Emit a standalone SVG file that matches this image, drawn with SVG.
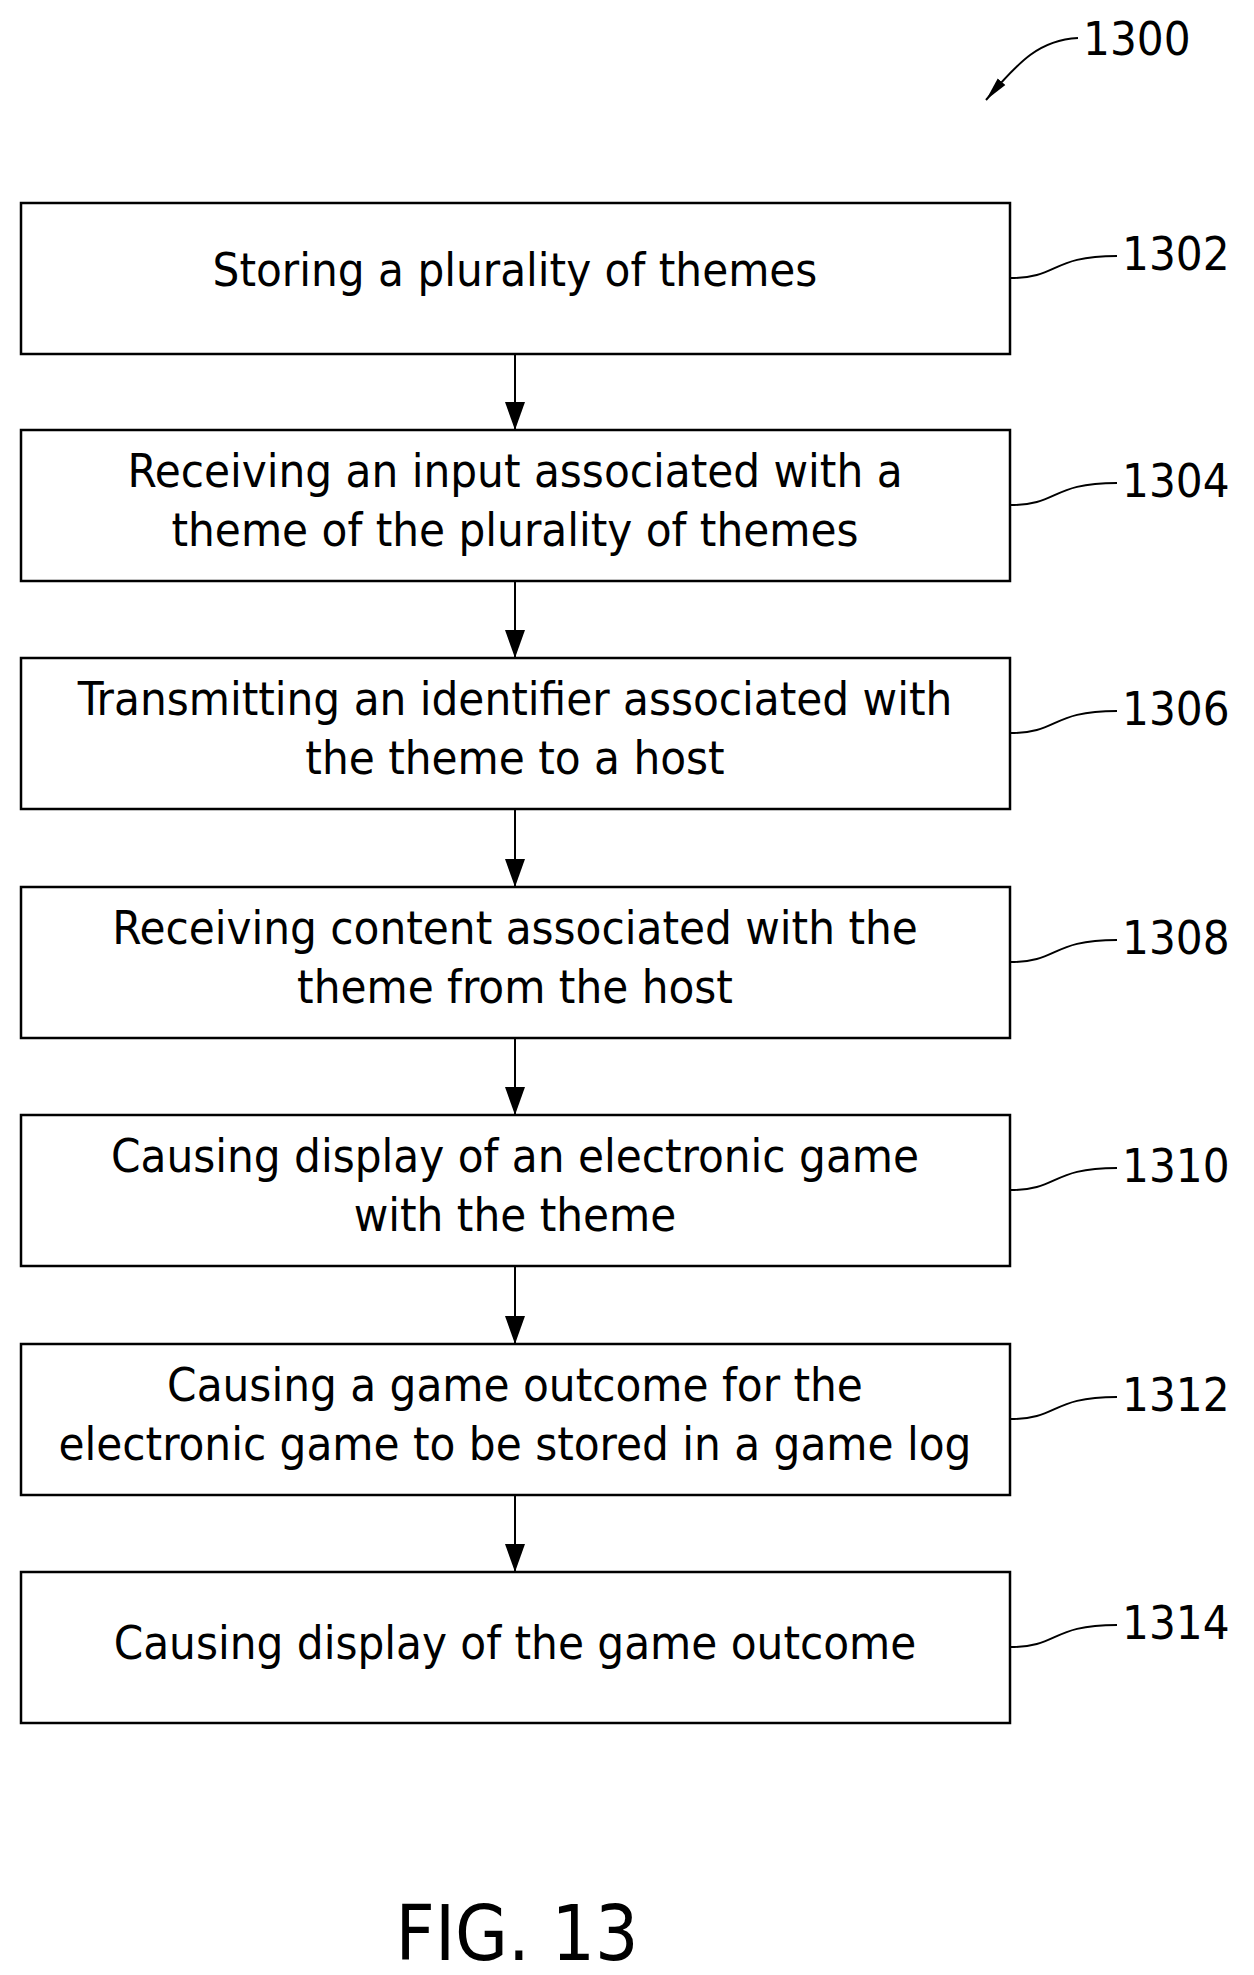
<svg xmlns="http://www.w3.org/2000/svg" width="1254" height="1975" viewBox="0 0 1254 1975">
<style>
.b{fill:#fff;stroke:#000;stroke-width:2.5}
text{font-family:"DejaVu Sans Condensed","DejaVu Sans",sans-serif;font-size:47px;fill:#000}
.t{text-anchor:middle}
.l{fill:none;stroke:#000;stroke-width:2}
</style>
<defs><marker id="a" viewBox="0 0 20 28" markerWidth="20" markerHeight="28" refX="10" refY="28" orient="0" markerUnits="userSpaceOnUse"><path d="M0,0 L20,0 L10,28 Z"/></marker>
<marker id="a2" viewBox="0 0 24 12" markerWidth="24" markerHeight="12" refX="24" refY="6" orient="auto" markerUnits="userSpaceOnUse"><path d="M0,1 L24,6 L0,11 Z"/></marker></defs>
<rect width="1254" height="1975" fill="#fff"/>
<g id="ref1300"><text x="1083" y="55">1300</text><path class="l" d="M1078,38 C1040,40 1020,60 986,100" marker-end="url(#a2)"/></g>
<g id="n1302"><rect class="b" x="21" y="203" width="989" height="151"/><text class="t" x="515" y="286">Storing a plurality of themes</text><text x="1122" y="270">1302</text><path class="l" d="M1010,278 C1060,278 1050,256 1117,256"/></g>
<g id="n1304"><rect class="b" x="21" y="430" width="989" height="151"/><text class="t" x="515" y="487">Receiving an input associated with a</text><text class="t" x="515" y="546">theme of the plurality of themes</text><text x="1122" y="497">1304</text><path class="l" d="M1010,505 C1060,505 1050,483 1117,483"/></g>
<g id="n1306"><rect class="b" x="21" y="658" width="989" height="151"/><text class="t" x="515" y="715">Transmitting an identifier associated with</text><text class="t" x="515" y="774">the theme to a host</text><text x="1122" y="725">1306</text><path class="l" d="M1010,733 C1060,733 1050,711 1117,711"/></g>
<g id="n1308"><rect class="b" x="21" y="887" width="989" height="151"/><text class="t" x="515" y="944">Receiving content associated with the</text><text class="t" x="515" y="1003">theme from the host</text><text x="1122" y="954">1308</text><path class="l" d="M1010,962 C1060,962 1050,940 1117,940"/></g>
<g id="n1310"><rect class="b" x="21" y="1115" width="989" height="151"/><text class="t" x="515" y="1172">Causing display of an electronic game</text><text class="t" x="515" y="1231">with the theme</text><text x="1122" y="1182">1310</text><path class="l" d="M1010,1190 C1060,1190 1050,1168 1117,1168"/></g>
<g id="n1312"><rect class="b" x="21" y="1344" width="989" height="151"/><text class="t" x="515" y="1401">Causing a game outcome for the</text><text class="t" x="515" y="1460">electronic game to be stored in a game log</text><text x="1122" y="1411">1312</text><path class="l" d="M1010,1419 C1060,1419 1050,1397 1117,1397"/></g>
<g id="n1314"><rect class="b" x="21" y="1572" width="989" height="151"/><text class="t" x="515" y="1659">Causing display of the game outcome</text><text x="1122" y="1639">1314</text><path class="l" d="M1010,1647 C1060,1647 1050,1625 1117,1625"/></g>
<g id="connectors">
<path class="l" d="M515,354 V430" marker-end="url(#a)"/>
<path class="l" d="M515,581 V658" marker-end="url(#a)"/>
<path class="l" d="M515,809 V887" marker-end="url(#a)"/>
<path class="l" d="M515,1038 V1115" marker-end="url(#a)"/>
<path class="l" d="M515,1266 V1344" marker-end="url(#a)"/>
<path class="l" d="M515,1495 V1572" marker-end="url(#a)"/>
</g>
<text class="t" x="517" y="1960" style="font-family:'DejaVu Sans Condensed','DejaVu Sans',sans-serif;font-size:76px">FIG. 13</text>
</svg>
